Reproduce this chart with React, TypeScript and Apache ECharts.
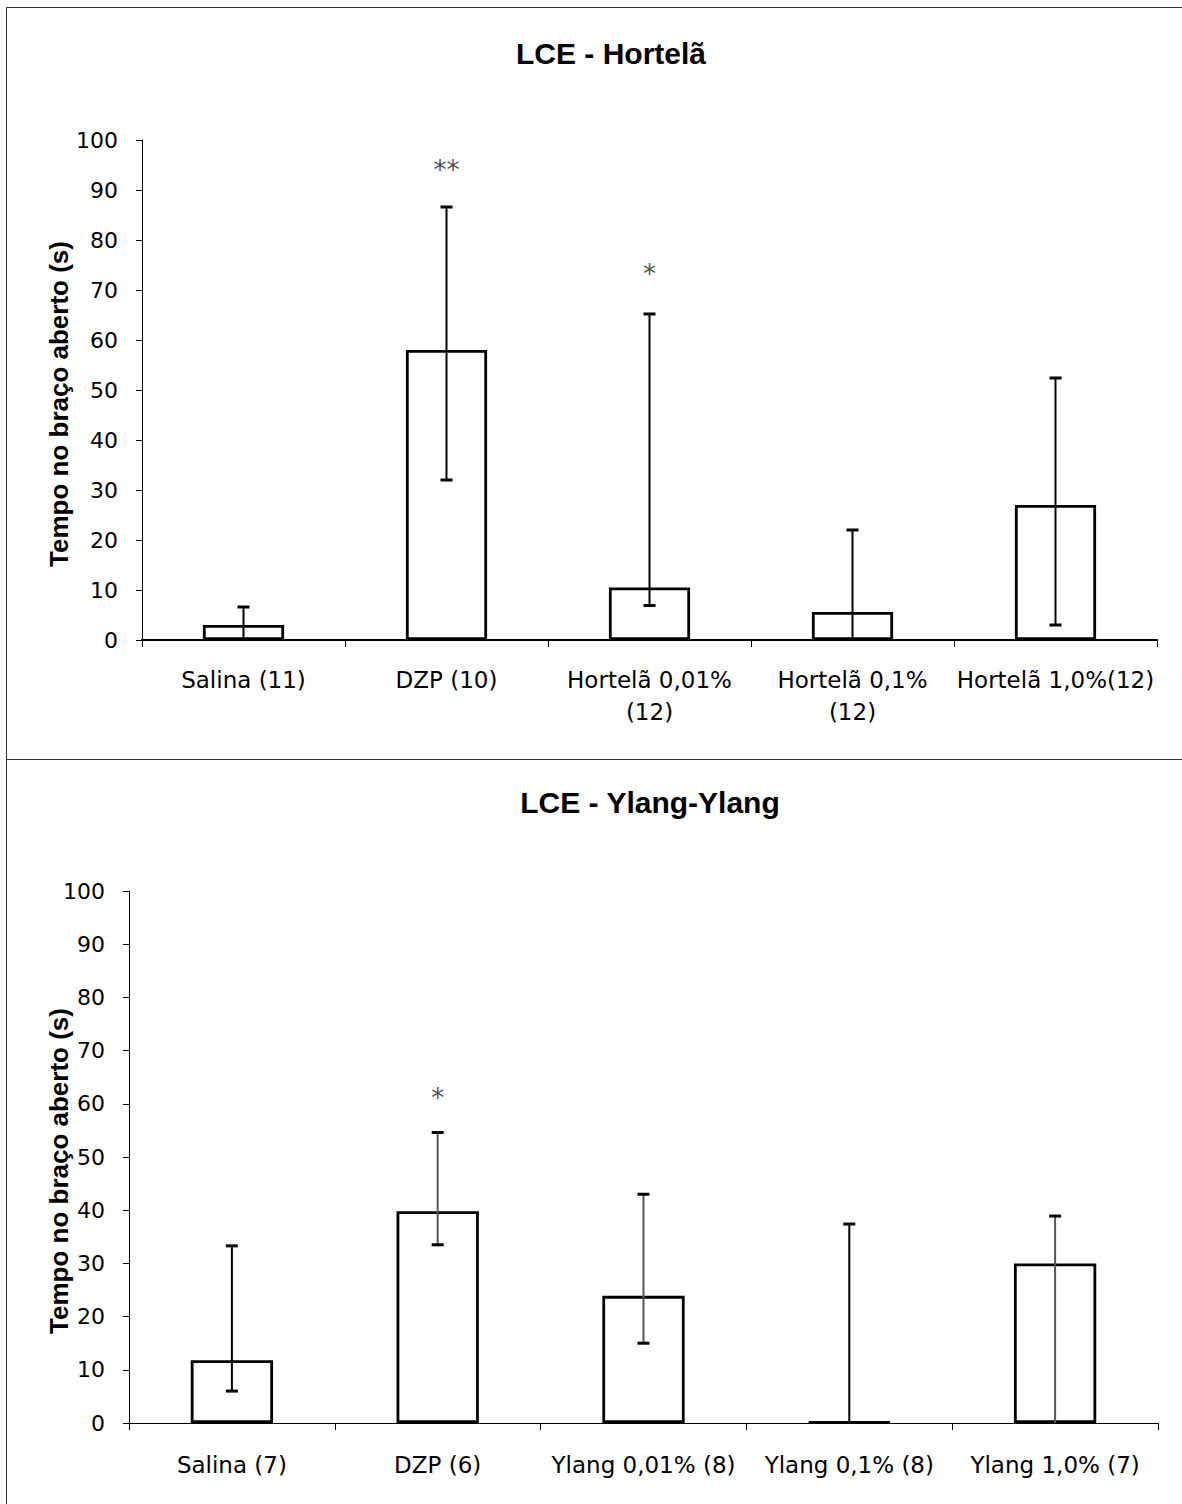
import { useEffect, useRef } from "react";
import * as echarts from "echarts";

// ---------- Data: LCE - Hortelã ----------
const topTitle = "LCE - Hortelã";
const topCategories = [
  "Salina (11)",
  "DZP (10)",
  "Hortelã 0,01%\n(12)",
  "Hortelã 0,1%\n(12)",
  "Hortelã 1,0%(12)",
];
const topMeans = [3, 58, 10.5, 5.6, 27];
const topErrLow = [0, 32, 6.9, 0, 3];
const topErrHigh = [6.6, 86.6, 65.2, 22, 52.4];
const topCapLow = [0, 1, 1, 0, 1];
const topCapHigh = [1, 1, 1, 1, 1];
const topSigIndex = [1, 2];
const topSigValue = [94, 73.2];
const topSigMark = ["**", "*"];

// ---------- Data: LCE - Ylang-Ylang ----------
const bottomTitle = "LCE - Ylang-Ylang";
const bottomCategories = [
  "Salina (7)",
  "DZP (6)",
  "Ylang 0,01% (8)",
  "Ylang 0,1% (8)",
  "Ylang 1,0% (7)",
];
const bottomMeans = [11.8, 39.8, 23.9, 0, 30];
const bottomErrLow = [6, 33.5, 15, 0, 0];
const bottomErrHigh = [33.3, 54.6, 43, 37.4, 38.9];
const bottomCapLow = [1, 1, 1, 0, 0];
const bottomCapHigh = [1, 1, 1, 1, 1];
const bottomSigIndex = [1];
const bottomSigValue = [61];
const bottomSigMark = ["*"];

// shared y-axis scale
const yMin = 0;
const yMax = 100;
const yInterval = 10;
const yAxisTitle = "Tempo no braço aberto (s)";

// styles (kept apart from data)
const topErrColors = ["#000", "#000", "#000", "#000", "#000"];
const bottomErrColors = ["#000", "#555", "#555", "#000", "#555"];

const LABEL_FONT = '"DejaVu Sans", Arial, sans-serif';
const BOLD_FONT = '"Liberation Sans", Arial, sans-serif';

function makeErrorRender(colors: string[]) {
  return (params: any, api: any) => {
    const i = api.value(0);
    const lo = api.coord([i, api.value(1)]);
    const hi = api.coord([i, api.value(2)]);
    const capLow = api.value(3);
    const capHigh = api.value(4);
    const color = colors[params.dataIndex] || "#000";
    const half = 6;
    const children: any[] = [
      {
        type: "line",
        shape: { x1: lo[0], y1: lo[1], x2: hi[0], y2: hi[1] },
        style: { stroke: color, lineWidth: 2 },
      },
    ];
    if (capHigh) {
      children.push({
        type: "line",
        shape: { x1: hi[0] - half, y1: hi[1], x2: hi[0] + half, y2: hi[1] },
        style: { stroke: "#000", lineWidth: 3 },
      });
    }
    if (capLow) {
      children.push({
        type: "line",
        shape: { x1: lo[0] - half, y1: lo[1], x2: lo[0] + half, y2: lo[1] },
        style: { stroke: "#000", lineWidth: 3 },
      });
    }
    return { type: "group", children };
  };
}

function yAxisCfg(gridIndex: number, nameGap: number) {
  return {
    type: "value",
    gridIndex,
    min: yMin,
    max: yMax,
    interval: yInterval,
    name: yAxisTitle,
    nameLocation: "middle",
    nameRotate: 90,
    nameGap,
    nameMoveOverlap: false,
    nameTextStyle: {
      fontFamily: BOLD_FONT,
      fontWeight: "bold",
      fontSize: 26,
      color: "#000",
      padding: [0, 28, 0, 0],
    },
    axisLine: { show: true, lineStyle: { color: "#000", width: 1 } },
    axisTick: { show: true, length: 6, lineStyle: { color: "#000", width: 1 } },
    axisLabel: {
      fontFamily: LABEL_FONT,
      fontSize: 22,
      color: "#000",
      margin: 24,
    },
    splitLine: { show: false },
  };
}

function xAxisCfg(gridIndex: number, data: string[], lineWidth: number, margin: number) {
  return {
    type: "category",
    gridIndex,
    data,
    axisLine: { show: true, onZero: false, lineStyle: { color: "#000", width: lineWidth } },
    axisTick: { show: true, length: 7, lineStyle: { color: "#000", width: 1 } },
    axisLabel: {
      interval: 0,
      fontFamily: LABEL_FONT,
      fontSize: 23,
      color: "#000",
      lineHeight: 32,
      margin,
    },
    splitLine: { show: false },
  };
}

function barSeries(idx: number, data: number[]) {
  return {
    type: "bar",
    xAxisIndex: idx,
    yAxisIndex: idx,
    data,
    barWidth: "40%",
    barMinHeight: 1,
    itemStyle: { color: "#fff", borderColor: "#000", borderWidth: 2.8 },
    z: 2,
  };
}

function errSeries(idx: number, lows: number[], highs: number[], capL: number[], capH: number[], colors: string[]) {
  return {
    type: "custom",
    xAxisIndex: idx,
    yAxisIndex: idx,
    renderItem: makeErrorRender(colors),
    data: lows.map((l, i) => [i, l, highs[i], capL[i], capH[i]]),
    z: 5,
  };
}

function sigSeries(idx: number, cats: number[], vals: number[], marks: string[]) {
  return {
    type: "scatter",
    xAxisIndex: idx,
    yAxisIndex: idx,
    symbolSize: 1,
    itemStyle: { color: "rgba(0,0,0,0)" },
    data: cats.map((c, k) => [c, vals[k]]),
    label: {
      show: true,
      position: "inside",
      formatter: (p: any) => marks[p.dataIndex],
      fontFamily: LABEL_FONT,
      fontSize: 26,
      color: "#222",
    },
    z: 6,
  };
}

export default function App() {
  const ref = useRef<HTMLDivElement>(null);

  useEffect(() => {
    if (!ref.current) return;
    const chart = echarts.init(ref.current, null, { renderer: "svg" });
    const borderStyle = { stroke: "#333", lineWidth: 1 };
    chart.setOption({
      animation: false,
      backgroundColor: "#fff",
      grid: [
        { left: 142, top: 140, width: 1015, height: 500, containLabel: false },
        { left: 129, top: 891, width: 1029, height: 532, containLabel: false },
      ],
      xAxis: [
        xAxisCfg(0, topCategories, 2, 24),
        xAxisCfg(1, bottomCategories, 1, 26),
      ],
      yAxis: [yAxisCfg(0, 70), yAxisCfg(1, 57)],
      series: [
        barSeries(0, topMeans),
        errSeries(0, topErrLow, topErrHigh, topCapLow, topCapHigh, topErrColors),
        sigSeries(0, topSigIndex, topSigValue, topSigMark),
        barSeries(1, bottomMeans),
        errSeries(1, bottomErrLow, bottomErrHigh, bottomCapLow, bottomCapHigh, bottomErrColors),
        sigSeries(1, bottomSigIndex, bottomSigValue, bottomSigMark),
      ],
      graphic: [
        { type: "line", shape: { x1: 6.5, y1: 7.5, x2: 1182, y2: 7.5 }, style: borderStyle, silent: true },
        { type: "line", shape: { x1: 6.5, y1: 7.5, x2: 6.5, y2: 1504 }, style: borderStyle, silent: true },
        { type: "line", shape: { x1: 6.5, y1: 759.5, x2: 1182, y2: 759.5 }, style: borderStyle, silent: true },
        {
          type: "text",
          x: 611,
          y: 53,
          style: {
            text: topTitle,
            font: `bold 30px ${BOLD_FONT}`,
            fill: "#000",
            align: "center",
            verticalAlign: "middle",
            textAlign: "center",
            textVerticalAlign: "middle",
          },
        },
        {
          type: "text",
          x: 650,
          y: 802,
          style: {
            text: bottomTitle,
            font: `bold 30px ${BOLD_FONT}`,
            fill: "#000",
            align: "center",
            verticalAlign: "middle",
            textAlign: "center",
            textVerticalAlign: "middle",
          },
        },
      ],
    });
    return () => chart.dispose();
  }, []);

  return (
    <div
      ref={ref}
      style={{ position: "absolute", left: 0, top: 0, width: 1182, height: 1504, background: "#fff" }}
    />
  );
}
